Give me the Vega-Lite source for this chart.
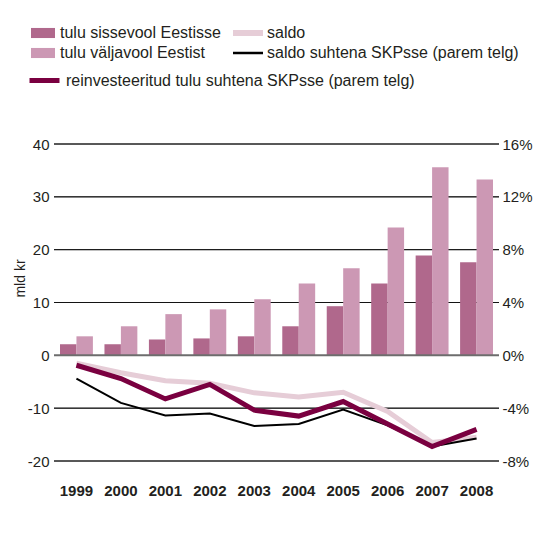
{
  "$schema": "https://vega.github.io/schema/vega-lite/v6.json",
  "width": 445,
  "height": 317,
  "autosize": {"type": "none"},
  "padding": {"left": 54, "top": 144, "right": 35, "bottom": 72},
  "background": "white",
  "config": {
    "font": "Liberation Sans",
    "view": {"stroke": null},
    "axis": {"labelFont": "Liberation Sans", "labelColor": "#231f20", "labelFontSize": 15},
    "legend": {"labelFont": "Liberation Sans", "labelColor": "#231f20", "labelFontSize": 16, "labelLimit": 400}
  },
  "datasets": {
    "bars": [
      {"year": "1999", "series": "tulu sissevool Eestisse", "value": 2.1},
      {"year": "2000", "series": "tulu sissevool Eestisse", "value": 2.1},
      {"year": "2001", "series": "tulu sissevool Eestisse", "value": 3.0},
      {"year": "2002", "series": "tulu sissevool Eestisse", "value": 3.2},
      {"year": "2003", "series": "tulu sissevool Eestisse", "value": 3.6},
      {"year": "2004", "series": "tulu sissevool Eestisse", "value": 5.5},
      {"year": "2005", "series": "tulu sissevool Eestisse", "value": 9.3},
      {"year": "2006", "series": "tulu sissevool Eestisse", "value": 13.6},
      {"year": "2007", "series": "tulu sissevool Eestisse", "value": 18.9},
      {"year": "2008", "series": "tulu sissevool Eestisse", "value": 17.6},
      {"year": "1999", "series": "tulu väljavool Eestist", "value": 3.6},
      {"year": "2000", "series": "tulu väljavool Eestist", "value": 5.5},
      {"year": "2001", "series": "tulu väljavool Eestist", "value": 7.8},
      {"year": "2002", "series": "tulu väljavool Eestist", "value": 8.7},
      {"year": "2003", "series": "tulu väljavool Eestist", "value": 10.6},
      {"year": "2004", "series": "tulu väljavool Eestist", "value": 13.6},
      {"year": "2005", "series": "tulu väljavool Eestist", "value": 16.5},
      {"year": "2006", "series": "tulu väljavool Eestist", "value": 24.2},
      {"year": "2007", "series": "tulu väljavool Eestist", "value": 35.6},
      {"year": "2008", "series": "tulu väljavool Eestist", "value": 33.3}
    ],
    "lines": [
      {"year": "1999", "saldo": -1.5, "saldo_pct": -1.76, "reinv_pct": -0.75},
      {"year": "2000", "saldo": -3.3, "saldo_pct": -3.6, "reinv_pct": -1.76},
      {"year": "2001", "saldo": -4.8, "saldo_pct": -4.55, "reinv_pct": -3.3},
      {"year": "2002", "saldo": -5.3, "saldo_pct": -4.4, "reinv_pct": -2.2},
      {"year": "2003", "saldo": -7.1, "saldo_pct": -5.35, "reinv_pct": -4.15},
      {"year": "2004", "saldo": -7.9, "saldo_pct": -5.2, "reinv_pct": -4.6},
      {"year": "2005", "saldo": -7.0, "saldo_pct": -4.1, "reinv_pct": -3.5},
      {"year": "2006", "saldo": -10.6, "saldo_pct": -5.3, "reinv_pct": -5.2},
      {"year": "2007", "saldo": -16.5, "saldo_pct": -6.9, "reinv_pct": -6.9},
      {"year": "2008", "saldo": -15.5, "saldo_pct": -6.3, "reinv_pct": -5.6}
    ],
    "grid": [{"v": -20}, {"v": -10}, {"v": 10}, {"v": 20}, {"v": 30}, {"v": 40}],
    "zero": [{"v": 0}]
  },
  "layer": [
    {
      "layer": [
        {
          "data": {"name": "grid"},
          "mark": {"type": "rect", "fill": null, "stroke": "#111111", "strokeWidth": 0.9},
          "encoding": {
            "y": {"field": "v", "type": "quantitative"},
            "y2": {"field": "v"}
          }
        },
        {
          "data": {"name": "bars"},
          "mark": {"type": "bar"},
          "encoding": {
            "x": {
              "field": "year", "type": "nominal",
              "scale": {"paddingInner": 0.26, "paddingOuter": 0.135},
              "axis": {"title": null, "labelAngle": 0, "ticks": false, "domain": false, "labelPadding": 22, "labelFontWeight": "bold", "labelFontSize": 15}
            },
            "xOffset": {"field": "series", "type": "nominal", "sort": ["tulu sissevool Eestisse", "tulu väljavool Eestist"]},
            "y": {
              "field": "value", "type": "quantitative",
              "scale": {"domain": [-20, 40], "nice": false, "zero": false},
              "axis": {
                "values": [-20, -10, 0, 10, 20, 30, 40],
                "labelExpr": "datum.value + ''",
                "ticks": false, "domain": false, "labelPadding": 5, "grid": false,
                "title": "mld kr", "titleFontSize": 14, "titleFontWeight": "normal", "titleColor": "#231f20",
                "titleX": -34, "titleY": 134, "titleAlign": "center", "titleBaseline": "middle", "titleAngle": -90
              }
            },
            "fill": {
              "field": "series", "type": "nominal",
              "scale": {"domain": ["tulu sissevool Eestisse", "tulu väljavool Eestist"], "range": ["#b0688c", "#cc98b4"]},
              "legend": {
                "title": null, "orient": "none", "legendX": -23, "legendY": -123,
                "symbolType": "M-1,-0.42H1V0.42H-1Z", "symbolSize": 576, "symbolOpacity": 1,
                "symbolStrokeWidth": 0, "labelOffset": 5, "rowPadding": -1
              }
            }
          }
        },
        {
          "data": {"name": "zero"},
          "mark": {"type": "rect", "fill": null, "stroke": "#6d6d6d", "strokeWidth": 2},
          "encoding": {
            "y": {"field": "v", "type": "quantitative"},
            "y2": {"field": "v"}
          }
        },
        {
          "data": {"name": "lines"},
          "mark": {"type": "line", "strokeWidth": 5, "strokeCap": "butt", "strokeJoin": "miter"},
          "encoding": {
            "x": {"field": "year", "type": "nominal"},
            "y": {"field": "saldo", "type": "quantitative"},
            "stroke": {
              "datum": "saldo",
              "scale": {"domain": ["saldo", "saldo suhtena SKPsse (parem telg)"], "range": ["#e6cdd7", "#000000"]},
              "legend": {
                "title": null, "orient": "none", "legendX": 186, "legendY": -119,
                "symbolSize": 900, "labelOffset": 11, "rowPadding": -13,
                "encode": {"symbols": {"update": {"strokeWidth": {"signal": "datum.value === 'saldo' ? 6 : 2.5"}}}}
              }
            }
          }
        }
      ]
    },
    {
      "layer": [
        {
          "data": {"name": "lines"},
          "mark": {"type": "line", "strokeWidth": 2, "strokeCap": "butt", "strokeJoin": "miter"},
          "encoding": {
            "x": {"field": "year", "type": "nominal"},
            "y": {
              "field": "saldo_pct", "type": "quantitative",
              "scale": {"domain": [-8, 16], "nice": false, "zero": false},
              "axis": {
                "orient": "right", "values": [-8, -4, 0, 4, 8, 12, 16],
                "labelExpr": "datum.value + '%'",
                "ticks": false, "domain": false, "grid": false, "labelPadding": 3, "title": null
              }
            },
            "stroke": {"datum": "saldo suhtena SKPsse (parem telg)"}
          }
        },
        {
          "data": {"name": "lines"},
          "mark": {"type": "line", "strokeWidth": 5, "strokeCap": "butt", "strokeJoin": "miter"},
          "encoding": {
            "x": {"field": "year", "type": "nominal"},
            "y": {"field": "reinv_pct", "type": "quantitative"},
            "color": {
              "datum": "reinvesteeritud tulu suhtena SKPsse (parem telg)",
              "scale": {"range": ["#7a0040"]},
              "legend": {
                "title": null, "orient": "none", "legendX": -27, "legendY": -81,
                "symbolSize": 900, "symbolStrokeWidth": 5, "labelOffset": 4
              }
            }
          }
        }
      ]
    }
  ],
  "resolve": {"scale": {"y": "independent"}}
}
